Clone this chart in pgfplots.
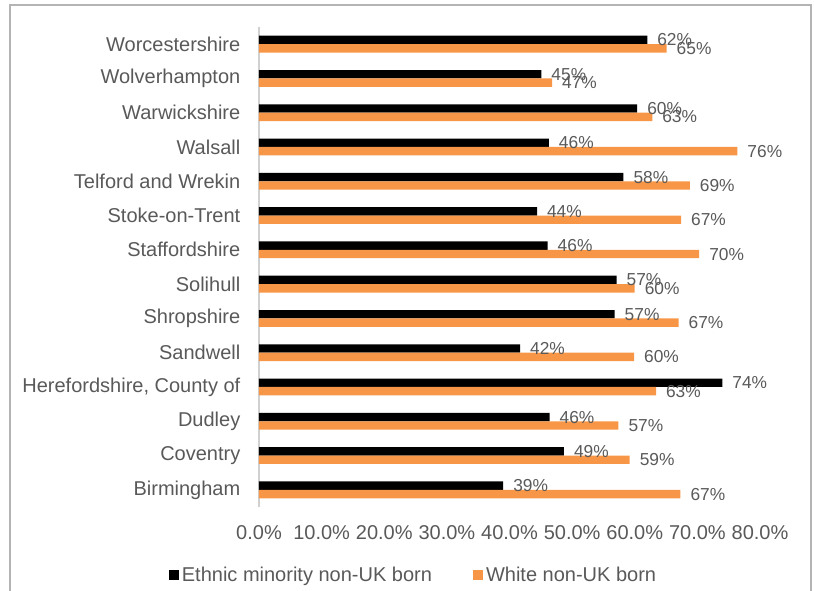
\documentclass[border=0pt]{standalone}
\usepackage{pgfplots}
\usepackage{pgfplotstable}
\pgfplotsset{compat=1.18}
\usepackage{fontspec}
\setmainfont{Liberation Sans}
\definecolor{barorange}{HTML}{F79646}
\definecolor{txtgray}{HTML}{595959}
\definecolor{framegray}{HTML}{B4B4B4}
\definecolor{axisgray}{HTML}{D0D0D0}

% y: 0 = Birmingham ... 13 = Worcestershire
\pgfplotstableread{
y  eth   white
0  39.0  67.3
1  48.7  59.2
2  46.4  57.4
3  74.0  63.4
4  41.7  59.9
5  56.8  67.0
6  57.1  60.0
7  46.1  70.3
8  44.4  67.4
9  58.2  68.8
10 46.3  76.4
11 60.4  62.8
12 45.1  46.8
13 62.0  65.1
}\regions

\begin{document}
\begin{tikzpicture}[x=0.75pt,y=0.75pt]
% axis box sits at the origin; everything else is in px relative to it
\draw[framegray, line width=1.1pt] (-249,-95) -- (-249,502) -- (552,502) -- (552,-95);
\begin{axis}[
    at={(0pt,0pt)}, anchor=south west, scale only axis,
    width=375.75pt, height=360pt,
    xbar, bar width=6.3pt,
    xmin=0, xmax=80, ymin=-0.5, ymax=13.5,
    axis line style={draw=none}, tick style={draw=none}, major tick length=0pt,
    xtick={0,10,...,80},
    xticklabels={0.0\%,10.0\%,20.0\%,30.0\%,40.0\%,50.0\%,60.0\%,70.0\%,80.0\%},
    ytick={0,...,13},
    yticklabels={Birmingham,Coventry,Dudley,{Herefordshire, County of},Sandwell,
        Shropshire,Solihull,Staffordshire,Stoke-on-Trent,Telford and Wrekin,
        Walsall,Warwickshire,Wolverhampton,Worcestershire},
    tick label style={font=\fontsize{15}{18}\selectfont, text=txtgray},
    xticklabel style={yshift=-10pt},
    yticklabel style={xshift=-10.5pt},
    clip=false,
    point meta=x,
    nodes near coords={\pgfmathprintnumber[fixed,precision=0]{\pgfplotspointmeta}\%},
    every node near coord/.append style={font=\fontsize{13}{15}\selectfont, text=txtgray, xshift=4pt},
    /pgf/number format/assume math mode=true,
    legend columns=2,
    legend style={draw=none, fill=none, at={(0.3094,-0.1417)}, anchor=center,
        font=\fontsize{15}{18}\selectfont, text=txtgray,
        /tikz/every even column/.append style={column sep=29pt}},
    legend image code/.code={\fill[#1] (0pt,-3.75pt) rectangle (7.5pt,3.75pt);},
]
\draw[axisgray, line width=0.8pt] (rel axis cs:0,0) -- (rel axis cs:0,1);
\addplot[fill=black, draw=none, bar shift=3.15pt] table[x=eth, y=y] {\regions};
\addlegendentry{Ethnic minority non-UK born}
\addplot[fill=barorange, draw=none, bar shift=-3.15pt] table[x=white, y=y] {\regions};
\addlegendentry{White non-UK born}
\end{axis}
\pgfresetboundingbox
\useasboundingbox (-194.25pt,-63pt) rectangle (416.25pt,380.25pt);
\end{tikzpicture}
\end{document}
